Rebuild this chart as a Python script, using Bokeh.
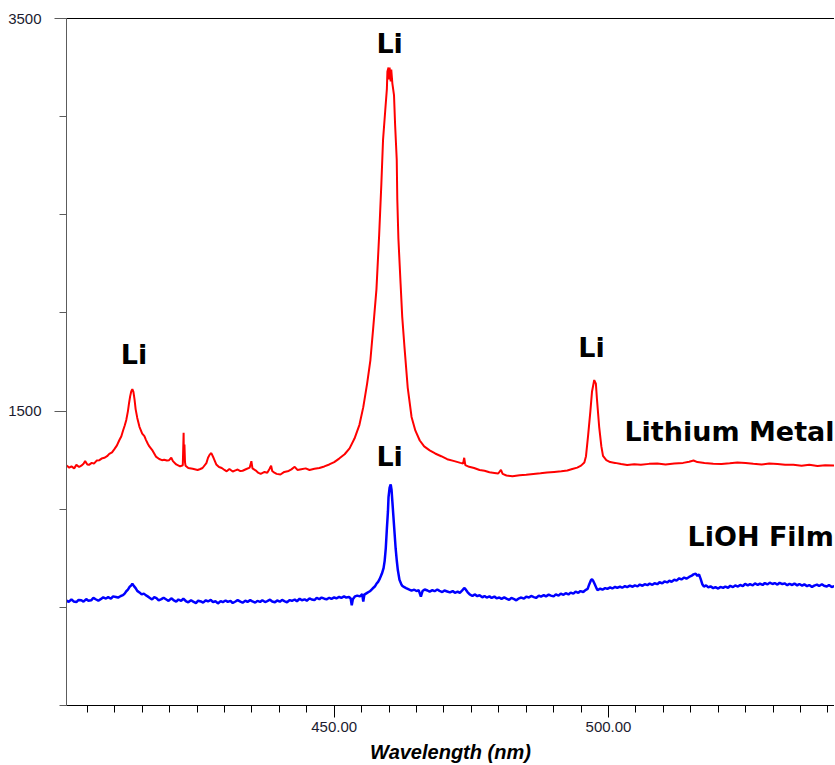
from bokeh.plotting import figure
from bokeh.models import ColumnDataSource, FixedTicker, NumeralTickFormatter, LinearAxis, Range1d
from bokeh.core.properties import value
from bokeh.embed import file_html
from bokeh.resources import INLINE

# ---------------- data ----------------
red_nm = [
    401.2, 401.7, 402.1, 402.6, 403.0, 403.5, 403.9, 404.3, 404.6, 405.0,
    405.3, 405.8, 406.2, 406.7, 407.2, 407.6, 408.1, 408.6, 409.0, 409.5,
    409.9, 410.4, 410.8, 411.2, 411.5, 411.8, 412.1, 412.4, 412.6, 412.8,
    413.0, 413.2, 413.4, 413.6, 413.8, 414.1, 414.5, 415.0, 415.4, 415.7,
    416.0, 416.3, 416.9, 417.5, 418.1, 418.6, 419.0, 419.5, 419.9, 420.3,
    420.6, 421.2, 421.9, 422.4, 422.55, 422.6, 422.7, 422.8, 422.9, 423.4,
    424.2, 425.1, 425.6, 426.0, 426.7, 427.0, 427.3, 427.6, 428.0, 428.5,
    429.0, 429.5, 430.0, 430.4, 430.9, 431.5, 432.0, 432.4, 432.9, 433.3,
    434.0, 434.6, 434.9, 435.1, 435.8, 436.2, 436.6, 437.3, 437.8, 438.2,
    438.5, 438.7, 439.1, 439.5, 440.2, 440.9, 441.7, 442.2, 442.8, 443.3,
    444.0, 444.8, 445.5, 446.4, 447.3, 448.2, 449.1, 450.0, 450.9, 451.9,
    452.8, 453.7, 454.6, 455.3, 456.0, 456.6, 457.1, 457.7, 458.2, 458.6,
    458.9, 459.3, 459.6, 459.7, 459.9, 460.0, 460.1, 460.3, 460.4, 460.6,
    460.9, 461.1, 461.4, 461.5, 461.7, 462.1, 462.4, 462.8, 463.4, 464.1,
    464.8, 465.6, 466.4, 467.4, 468.4, 469.5, 470.6, 471.9, 473.0, 473.5,
    473.7, 473.9, 474.6, 475.5, 476.5, 477.4, 478.3, 479.2, 479.9, 480.4,
    480.7, 481.4, 482.5, 483.8, 485.0, 486.3, 487.6, 488.8, 490.1, 491.4,
    492.5, 493.4, 494.3, 495.0, 495.6, 495.9, 496.3, 496.7, 497.0, 497.4,
    497.7, 497.9, 498.3, 498.7, 499.0, 499.6, 500.3, 501.2, 502.3, 503.4,
    504.7, 505.9, 507.4, 508.9, 510.4, 512.0, 513.6, 514.7, 515.5, 516.2,
    517.5, 519.1, 520.6, 522.1, 523.5, 525.0, 526.4, 527.9, 529.3, 530.8,
    532.2, 533.7, 535.2, 536.6, 538.1, 539.5, 541.2,
]
red_int = [
    1223, 1212, 1218, 1208, 1226, 1215, 1222, 1232, 1245, 1228,
    1226, 1236, 1232, 1248, 1250, 1258, 1262, 1270, 1282, 1290,
    1305, 1325, 1350, 1372, 1400, 1425, 1455, 1500, 1540, 1575,
    1600, 1612, 1598, 1560, 1510, 1465, 1420, 1385, 1372, 1352,
    1335, 1320, 1298, 1268, 1256, 1250, 1252, 1248, 1250, 1262,
    1245, 1228, 1218, 1224, 1390, 1250, 1330, 1240, 1222, 1210,
    1206, 1200, 1205, 1210, 1235, 1262, 1278, 1286, 1262, 1228,
    1215, 1210, 1200, 1193, 1205, 1192, 1198, 1202, 1194, 1196,
    1205, 1212, 1245, 1208, 1195, 1185, 1180, 1190, 1186, 1205,
    1222, 1195, 1186, 1180, 1177, 1190, 1195, 1203, 1216, 1200,
    1204, 1208, 1200, 1206, 1210, 1218, 1228, 1240, 1258, 1280,
    1310, 1360, 1430, 1520, 1640, 1760, 1920, 2120, 2400, 2660,
    2880, 3030, 3140, 3230, 3250, 3190, 3250, 3180, 3240, 3170,
    3110, 2960, 2780, 2580, 2380, 2150, 1980, 1830, 1620, 1470,
    1400, 1350, 1320, 1300, 1284, 1270, 1255, 1245, 1236, 1233,
    1262, 1225, 1216, 1210, 1200, 1196, 1188, 1185, 1182, 1200,
    1180, 1172, 1168, 1173, 1176, 1180, 1183, 1187, 1190, 1193,
    1197, 1205, 1212, 1222, 1238, 1270, 1380, 1500, 1600, 1658,
    1640, 1560, 1420, 1320, 1272, 1250, 1240, 1236, 1230, 1225,
    1229, 1226, 1231, 1233, 1228, 1233, 1236, 1242, 1248, 1240,
    1236, 1232, 1230, 1234, 1238, 1236, 1232, 1228, 1233, 1230,
    1226, 1227, 1222, 1226, 1220, 1224, 1222,
]

blue_nm = [
    401.2, 401.6, 402.1, 402.5, 403.0, 403.4, 403.9, 404.3, 404.8, 405.2,
    405.7, 406.1, 406.6, 407.0, 407.5, 407.9, 408.4, 408.8, 409.3, 409.7,
    410.2, 410.6, 411.1, 411.5, 411.8, 412.1, 412.4, 412.7, 413.0, 413.2,
    413.5, 413.8, 414.1, 414.5, 414.9, 415.3, 415.7, 416.0, 416.4, 416.8,
    417.2, 417.6, 418.0, 418.5, 418.9, 419.4, 419.8, 420.3, 420.7, 421.2,
    421.6, 422.1, 422.5, 423.0, 423.4, 423.9, 424.3, 424.8, 425.2, 425.7,
    426.1, 426.6, 427.0, 427.5, 427.9, 428.4, 428.8, 429.3, 429.7, 430.2,
    430.6, 431.1, 431.5, 432.0, 432.4, 432.9, 433.3, 433.8, 434.2, 434.7,
    435.1, 435.6, 436.0, 436.5, 436.9, 437.4, 437.8, 438.3, 438.7, 439.2,
    439.6, 440.1, 440.5, 441.0, 441.4, 441.9, 442.3, 442.8, 443.2, 443.7,
    444.1, 444.6, 445.0, 445.5, 445.9, 446.4, 446.8, 447.3, 447.7, 448.2,
    448.6, 449.1, 449.5, 450.0, 450.4, 450.9, 451.3, 451.8, 452.2, 452.7,
    453.0, 453.2, 453.4, 453.8, 454.2, 454.7, 455.1, 455.3, 455.5, 456.0,
    456.5, 457.0, 457.4, 457.7, 458.0, 458.3, 458.7, 459.0, 459.2, 459.4,
    459.6, 459.8, 459.9, 460.1, 460.3, 460.45, 460.6, 460.8, 461.0, 461.2,
    461.4, 461.6, 461.9, 462.2, 462.4, 462.7, 463.1, 463.4, 463.7, 464.1,
    464.6, 465.0, 465.4, 465.8, 466.1, 466.5, 467.0, 467.4, 467.9, 468.3,
    468.8, 469.2, 469.7, 470.1, 470.6, 471.1, 471.6, 472.0, 472.5, 472.9,
    473.3, 473.7, 474.0, 474.3, 474.7, 475.2, 475.6, 476.1, 476.5, 477.0,
    477.4, 477.8, 478.3, 478.7, 479.2, 479.6, 480.1, 480.5, 481.0, 481.4,
    481.9, 482.3, 482.8, 483.2, 483.7, 484.1, 484.6, 485.0, 485.5, 485.9,
    486.4, 486.8, 487.3, 487.7, 488.2, 488.6, 489.1, 489.5, 490.0, 490.4,
    490.9, 491.3, 491.8, 492.2, 492.7, 493.1, 493.6, 494.0, 494.5, 494.9,
    495.4, 495.8, 496.2, 496.5, 496.8, 497.0, 497.2, 497.5, 497.8, 498.0,
    498.5, 498.9, 499.4, 499.8, 500.3, 500.7, 501.2, 501.6, 502.1, 502.5,
    503.0, 503.4, 503.9, 504.4, 504.8, 505.3, 505.7, 506.2, 506.6, 507.1,
    507.5, 508.0, 508.4, 508.9, 509.3, 509.8, 510.2, 510.7, 511.1, 511.5,
    512.0, 512.4, 512.9, 513.3, 513.8, 514.2, 514.7, 515.1, 515.5, 515.9,
    516.2, 516.5, 516.8, 517.1, 517.4, 517.8, 518.2, 518.6, 519.1, 519.5,
    520.0, 520.4, 520.9, 521.3, 521.8, 522.2, 522.7, 523.1, 523.6, 524.0,
    524.5, 524.9, 525.4, 525.8, 526.3, 526.7, 527.2, 527.6, 528.1, 528.5,
    529.0, 529.4, 529.9, 530.3, 530.8, 531.2, 531.7, 532.1, 532.6, 533.0,
    533.5, 533.9, 534.4, 534.8, 535.3, 535.7, 536.2, 536.6, 537.1, 537.5,
    538.0, 538.4, 538.9, 539.3, 539.8, 540.2, 540.7, 541.2,
]
blue_int = [
    535, 528, 541, 530, 527, 538, 536, 529, 542, 534,
    536, 548, 540, 534, 543, 551, 545, 552, 544, 556,
    553, 550, 558, 562, 570, 582, 590, 604, 612, 620,
    608, 598, 584, 576, 566, 570, 561, 556, 548, 540,
    552, 547, 536, 542, 549, 540, 533, 546, 537, 529,
    540, 533, 544, 531, 526, 536, 529, 522, 534, 530,
    524, 536, 530, 538, 527, 531, 520, 532, 527, 535,
    528, 533, 522, 530, 537, 529, 524, 534, 528, 537,
    530, 524, 533, 528, 536, 527, 532, 539, 530, 526,
    535, 529, 538, 531, 526, 537, 533, 540, 531, 544,
    536, 541, 534, 546, 540, 537, 548, 542, 550, 544,
    541, 549, 543, 551, 546, 553, 548, 556, 550, 553,
    545, 510, 541, 556, 560, 556, 568, 530, 565, 574,
    582, 596, 606, 620, 630, 645, 672, 700, 737, 800,
    900, 990, 1060, 1110, 1126, 1100, 1040, 960, 880, 800,
    740, 690, 640, 620, 610, 604, 598, 594, 590, 585,
    590, 583, 588, 555, 583, 591, 586, 580, 588, 582,
    591, 584, 578, 586, 581, 576, 583, 574, 580, 574,
    585, 599, 590, 578, 566, 558, 566, 557, 562, 551,
    558, 550, 556, 548, 555, 546, 550, 543, 551, 545,
    538, 548, 542, 536, 546, 550, 544, 555, 550, 558,
    552, 548, 560, 555, 562, 556, 565, 560, 556, 566,
    560, 570, 564, 572, 566, 575, 570, 580, 574, 583,
    578, 588, 594, 618, 638, 643, 636, 618, 598, 588,
    595, 590, 598, 594, 602, 596, 604, 599, 606, 600,
    608, 603, 611, 605, 612, 607, 616, 610, 618, 613,
    621, 615, 623, 618, 628, 622, 632, 627, 636, 630,
    641, 636, 648, 642, 652, 646, 655, 660, 668, 672,
    660, 668, 645, 618, 606, 612, 602, 607, 598, 603,
    596, 604, 599, 606, 600, 610, 603, 612, 606, 614,
    608, 620, 612, 618, 612, 622, 615, 621, 614, 624,
    617, 626, 619, 624, 616, 625, 618, 622, 613, 620,
    614, 622, 612, 619, 611, 617, 608, 614, 604, 611,
    616, 609, 618, 610, 606, 614, 604, 608,
]

label_text = ["Li", "Li", "Li", "Li"]
label_nm = [413.5, 460.1, 496.9, 460.1]
label_int = [1788, 3375, 1824, 1270]

series_names = ["Lithium Metal", "LiOH Film"]
series_name_nm = [502.9, 514.4]
series_name_int = [1395, 863]

x_major = [450, 500]
x_minor = [405, 410, 415, 420, 425, 430, 435, 440, 445, 450, 455, 460, 465, 470,
           475, 480, 485, 490, 495, 500, 505, 510, 515, 520, 525, 530, 535, 540]
y_major = [1500, 3500]
y_minor = [0, 500, 1000, 1500, 2000, 2500, 3000, 3500]

# ---------------- figure ----------------
p = figure(
    frame_width=768, frame_height=687,
    x_range=Range1d(401.2, 541.2), y_range=Range1d(0, 3500),
    output_backend="svg", toolbar_location=None,
    min_border_left=66, min_border_top=18, min_border_right=0, min_border_bottom=54,
)
p.outline_line_color = None
p.xgrid.visible = False
p.ygrid.visible = False
p.background_fill_color = "white"
p.border_fill_color = "white"

p.line(red_nm, red_int, line_color="#ff0000", line_width=2)
p.line(blue_nm, blue_int, line_color="#0000ff", line_width=2.5)

lab_src = ColumnDataSource(dict(x=label_nm, y=label_int, t=label_text))
p.text(x="x", y="y", text="t", source=lab_src,
       text_font=value("DejaVu Sans"), text_font_style="bold",
       text_font_size="27px", text_align="center", text_baseline="middle",
       text_color="black")

name_src = ColumnDataSource(dict(x=series_name_nm, y=series_name_int, t=series_names))
p.text(x="x", y="y", text="t", source=name_src,
       text_font=value("DejaVu Sans"), text_font_style="bold",
       text_font_size="27px", text_align="left", text_baseline="middle",
       text_color="black")

# x axis
xa = p.xaxis[0]
xa.ticker = FixedTicker(ticks=x_major, minor_ticks=x_minor)
xa.formatter = NumeralTickFormatter(format="0.00")
xa.major_tick_out = 12
xa.major_tick_in = 0
xa.minor_tick_out = 7
xa.minor_tick_in = 0
xa.axis_line_color = "black"
xa.major_tick_line_color = "black"
xa.minor_tick_line_color = "black"
xa.major_label_standoff = 4
xa.major_label_text_font = "Liberation Sans"
xa.major_label_text_font_size = "15px"
xa.major_label_text_color = "#1c1c30"
xa.axis_label = "Wavelength (nm)"
xa.axis_label_text_font = "Liberation Sans"
xa.axis_label_text_font_style = "bold italic"
xa.axis_label_text_font_size = "20px"
xa.axis_label_text_color = "black"
xa.axis_label_standoff = 6

# y axis
ya = p.yaxis[0]
ya.ticker = FixedTicker(ticks=y_major, minor_ticks=y_minor)
ya.major_tick_out = 12
ya.major_tick_in = 0
ya.minor_tick_out = 7
ya.minor_tick_in = 0
ya.axis_line_color = "#5c5c5c"
ya.major_tick_line_color = "#5c5c5c"
ya.minor_tick_line_color = "#5c5c5c"
ya.major_label_standoff = 13
ya.major_label_text_font = "Liberation Sans"
ya.major_label_text_font_size = "15px"
ya.major_label_text_color = "#1c1c30"
ya.major_label_orientation = "horizontal"

# top border line
top = LinearAxis(ticker=FixedTicker(ticks=[]), major_tick_out=0, major_tick_in=0,
                 minor_tick_out=0, minor_tick_in=0, major_label_text_font_size="0px",
                 axis_line_color="black")
p.add_layout(top, "above")

open("out.html", "w").write(file_html(p, INLINE))
